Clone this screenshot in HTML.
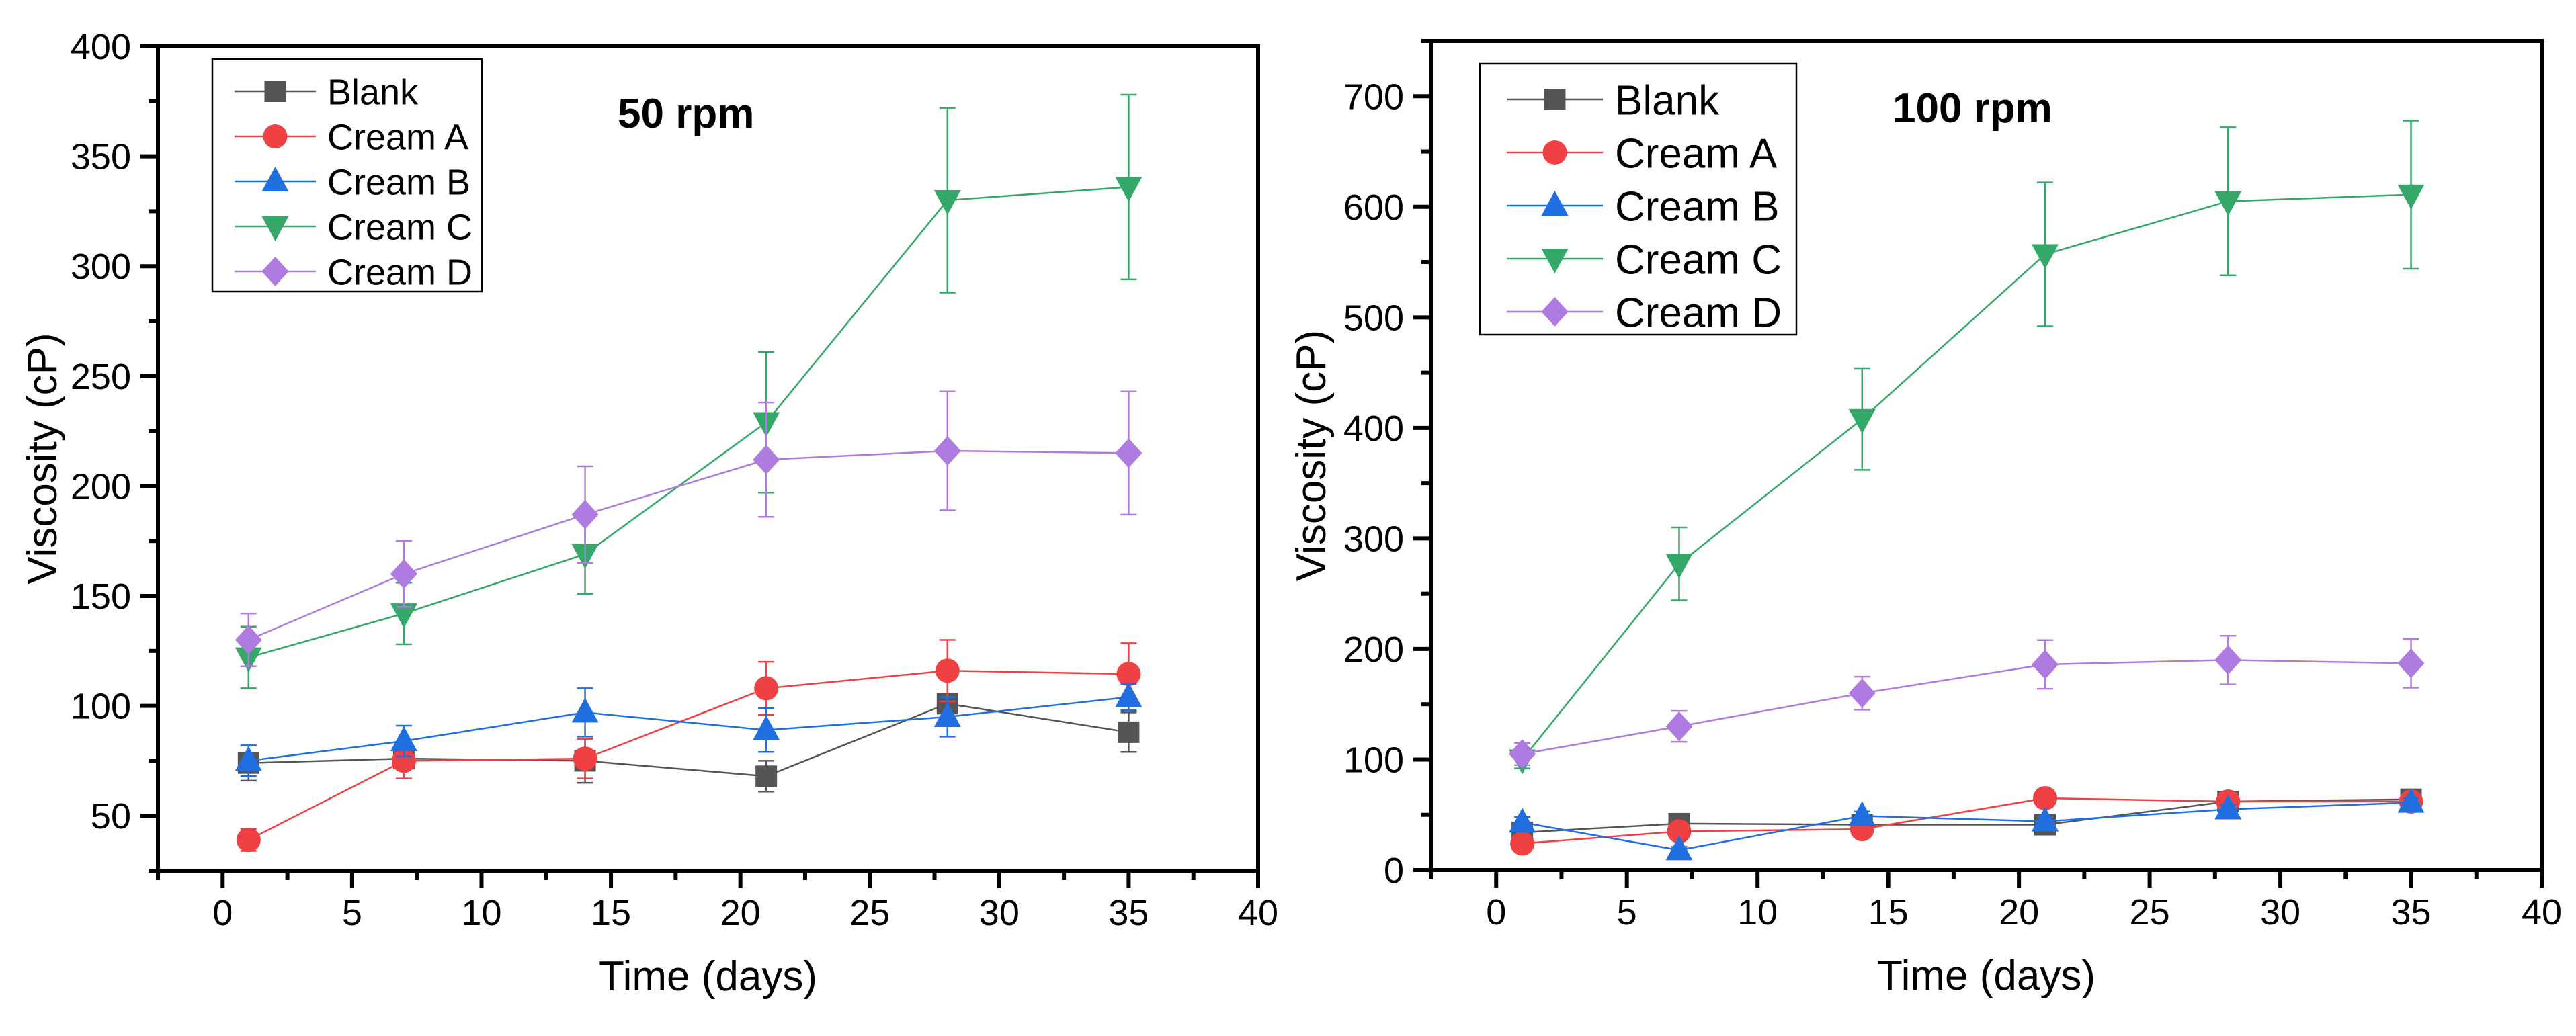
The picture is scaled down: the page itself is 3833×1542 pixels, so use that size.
<!DOCTYPE html>
<html><head><meta charset="utf-8"><style>
html,body{margin:0;padding:0;background:#fff;}
svg{display:block;font-family:"Liberation Sans",Arial,sans-serif;}
</style></head><body>
<svg id="chart" width="3833" height="1542" viewBox="0 0 3833 1542" xmlns="http://www.w3.org/2000/svg"></svg>
<script>
const days = [1, 7, 14, 21, 28, 35];
const seriesNames = ["Blank", "Cream A", "Cream B", "Cream C", "Cream D"];
// 50 rpm
const blank50 = [74, 76, 75, 68, 101, 88];
const blank50Err = [8, 3, 10, 7, 3, 9];
const creamA50 = [39, 75, 76, 108, 116, 114.5];
const creamA50Err = [5, 8, 9, 12, 14, 14];
const creamB50 = [75, 84, 97, 89, 95, 104];
const creamB50Err = [7, 7, 11, 10, 9, 6];
const creamC50 = [122, 142, 169, 229, 330, 336];
const creamC50Err = [14, 14, 18, 32, 42, 42];
const creamD50 = [130, 160, 187, 212, 216, 215];
const creamD50Err = [12, 15, 22, 26, 27, 28];
// 100 rpm
const blank100 = [34, 42, 41, 41, 62, 64];
const blank100Err = [3, 3, 3, 3, 3, 3];
const creamA100 = [24, 35, 37, 65, 62, 62];
const creamA100Err = [5, 4, 4, 8, 3, 3];
const creamB100 = [43, 18, 49, 44, 55, 61];
const creamB100Err = [5, 3, 4, 4, 4, 4];
const creamC100 = [100, 277, 408, 557, 605, 611];
const creamC100Err = [8, 33, 46, 65, 67, 67];
const creamD100 = [105, 130, 160, 186, 190, 187];
const creamD100Err = [10, 14, 15, 22, 22, 22];
const xTicks = [0, 5, 10, 15, 20, 25, 30, 35, 40];
const yTicks50 = [50, 100, 150, 200, 250, 300, 350, 400];
const yTicks100 = [0, 100, 200, 300, 400, 500, 600, 700];

const colors = ["#555555", "#ef4043", "#1f6fe0", "#34a868", "#b07be0"];
const shapes = ["square", "circle", "up", "down", "diamond"];
const NS = "http://www.w3.org/2000/svg";
const svg = document.getElementById("chart");
function el(tag, attrs, parent) {
  const e = document.createElementNS(NS, tag);
  for (const k in attrs) e.setAttribute(k, attrs[k]);
  (parent || svg).appendChild(e);
  return e;
}
function marker(g, shape, cx, cy, color) {
  let m;
  if (shape === "square") m = el("rect", {x: cx-16, y: cy-16, width: 32, height: 32, fill: color}, g);
  else if (shape === "circle") m = el("circle", {cx: cx, cy: cy, r: 18, fill: color}, g);
  else if (shape === "up") m = el("polygon", {points: `${cx},${cy-22} ${cx-20},${cy+15} ${cx+20},${cy+15}`, fill: color}, g);
  else if (shape === "down") m = el("polygon", {points: `${cx},${cy+22} ${cx-20},${cy-15} ${cx+20},${cy-15}`, fill: color}, g);
  else m = el("polygon", {points: `${cx},${cy-22} ${cx+20},${cy} ${cx},${cy+22} ${cx-20},${cy}`, fill: color}, g);
  return m;
}

function panel(cfg) {
  const g = el("g", {});
  
  
  const L = cfg.left, R = cfg.right, T = cfg.top, B = cfg.bottom;
  const sx = v => L + (v - (-2.5)) / 42.5 * (R - L);
  const sy = v => B - (v - cfg.ymin) / (cfg.ymax - cfg.ymin) * (B - T);
  for (let v = -2.5; v <= 40.01; v += 2.5) {
    const major = Math.abs(v % 5) < 0.01;
    const t = el("line", {x1: sx(v), x2: sx(v), y1: B, y2: B + (major ? 26 : 14), stroke: "#000", "stroke-width": 6}, g);
    
    
  }
  xTicks.forEach(v => {
    const t = el("text", {x: sx(v), y: B + 81, "font-size": 54, "text-anchor": "middle", fill: "#000"}, g);
    t.textContent = v;
    
    
  });
  const step = cfg.ytickStep / 2;
  for (let v = cfg.ymin; v <= cfg.ymax + 0.01; v += step) {
    const major = Math.abs(v % cfg.ytickStep) < 0.01;
    const t = el("line", {x1: L - (major ? 26 : 14), x2: L, y1: sy(v), y2: sy(v), stroke: "#000", "stroke-width": 6}, g);
    
    
  }
  cfg.yTicks.forEach(v => {
    const t = el("text", {x: L - 40, y: sy(v) + 19, "font-size": 54, "text-anchor": "end", fill: "#000"}, g);
    t.textContent = v;
    
    
  });
  const frame = el("rect", {x: L, y: T, width: R - L, height: B - T, fill: "none", stroke: "#000", "stroke-width": 6}, g);
  
  
  const xt = el("text", {x: (L + R) / 2, y: B + 178, "font-size": 62, "text-anchor": "middle"}, g);
  xt.textContent = "Time (days)";
  
  
  const yt = el("text", {x: 0, y: 0, "font-size": 62, "text-anchor": "middle", transform: `translate(${cfg.ytitleX},${(T + B) / 2}) rotate(-90)`}, g);
  yt.textContent = "Viscosity (cP)";
  
  
  const title = el("text", {x: cfg.titleX, y: cfg.titleY, "font-size": 62, "font-weight": "bold"}, g);
  title.textContent = cfg.title;
  
  
  cfg.series.forEach((vals, i) => {
    const sg = el("g", {}, g);
    
    
    const errs = cfg.errs[i];
    days.forEach((d, j) => {
      const x = sx(d), y1 = sy(vals[j] - errs[j]), y2 = sy(vals[j] + errs[j]);
      el("line", {x1: x, x2: x, y1: y1, y2: y2, stroke: colors[i], "stroke-width": 2.5}, sg);
      el("line", {x1: x - 12, x2: x + 12, y1: y1, y2: y1, stroke: colors[i], "stroke-width": 2.5}, sg);
      el("line", {x1: x - 12, x2: x + 12, y1: y2, y2: y2, stroke: colors[i], "stroke-width": 2.5}, sg);
    });
    const pts = days.map((d, j) => sx(d) + "," + sy(vals[j])).join(" ");
    const pl = el("polyline", {points: pts, fill: "none", stroke: colors[i], "stroke-width": 2.5}, sg);
    
    
    days.forEach((d, j) => {
      const m = marker(sg, shapes[i], sx(d), sy(vals[j]), colors[i]);
      
      
    });
  });
  const lg = el("g", {}, g);
  
  
  const lb = cfg.legend;
  el("rect", {x: lb.x, y: lb.y, width: lb.w, height: lb.h, fill: "#fff", stroke: "#000", "stroke-width": 2.5}, lg);
  seriesNames.forEach((n, i) => {
    const ey = lb.row0 + i * lb.rowH;
    const eg = el("g", {}, lg);
    
    
    el("line", {x1: lb.lx1, x2: lb.lx2, y1: ey, y2: ey, stroke: colors[i], "stroke-width": 2.5}, eg);
    marker(eg, shapes[i], (lb.lx1 + lb.lx2) / 2, ey, colors[i]);
    const t = el("text", {x: lb.tx, y: ey + lb.fs * 0.36, "font-size": lb.fs}, eg);
    t.textContent = n;
  });
}

panel({name: "panel-50-rpm", left: 235, right: 1872, top: 69, bottom: 1296, ymin: 25, ymax: 400, ytickStep: 50,
  yTicks: yTicks50, ytitleX: 84, title: "50 rpm", titleX: 919, titleY: 190,
  series: [blank50, creamA50, creamB50, creamC50, creamD50],
  errs: [blank50Err, creamA50Err, creamB50Err, creamC50Err, creamD50Err],
  legend: {x: 316, y: 88, w: 401, h: 346, row0: 136, rowH: 67, lx1: 349, lx2: 470, tx: 487, fs: 54}});
panel({name: "panel-100-rpm", left: 2129, right: 3782, top: 61, bottom: 1295, ymin: 0, ymax: 750, ytickStep: 100,
  yTicks: yTicks100, ytitleX: 1972, title: "100 rpm", titleX: 2816, titleY: 182,
  series: [blank100, creamA100, creamB100, creamC100, creamD100],
  errs: [blank100Err, creamA100Err, creamB100Err, creamC100Err, creamD100Err],
  legend: {x: 2202, y: 95, w: 471, h: 403, row0: 148, rowH: 79, lx1: 2242, lx2: 2385, tx: 2403, fs: 62}});
</script>
</body></html>
